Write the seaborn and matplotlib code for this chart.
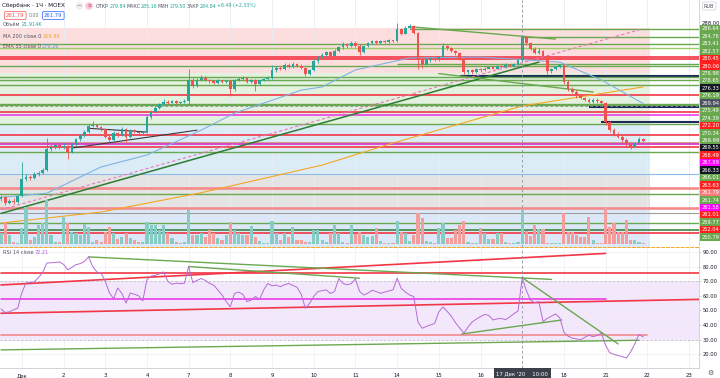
import matplotlib
matplotlib.use("Agg")
import matplotlib.pyplot as plt
from matplotlib.text import Annotation
import numpy as np
import pandas as pd
import seaborn as sns

# SBER 1h, 30 Nov - 21 Dec 2020, ten hourly bars per day
close = [
    250.0, 248.8, 249.3, 249.0, 250.2,
    254.0, 254.5, 254.3, 255.0, 255.2, 256.0, 260.5, 261.0, 261.3, 261.0,
    261.2, 259.8, 261.5, 262.6, 263.4, 264.2, 265.6, 265.8, 265.2, 264.8,
    263.2, 262.4, 264.0, 263.5, 264.8, 263.1, 264.6, 264.2, 263.9, 264.1,
    267.5, 268.6, 269.4, 270.3, 270.8, 270.6, 270.9, 270.5, 270.7, 271.0,
    275.5, 274.2, 275.6, 276.0, 275.5, 275.2, 274.9, 275.4, 275.0, 275.3,
    273.5, 275.4, 275.8, 276.0, 275.1, 275.5, 274.6, 275.4, 275.7, 276.0,
    277.6, 278.2, 277.9, 278.8, 278.4, 279.0, 278.6, 278.2, 276.8, 277.6,
    279.6, 280.5, 281.0, 281.6, 280.8, 281.8, 282.6, 283.3, 282.8, 283.6,
    283.0, 281.5, 282.8, 283.5, 283.9, 283.6, 284.0, 283.8, 284.1, 284.0,
    286.5, 285.6, 286.9, 287.2, 285.8, 280.0, 279.0, 279.8, 280.2, 280.0,
    280.4, 282.8, 282.4, 281.9, 281.3, 280.1, 277.3, 277.6, 277.2, 277.9,
    277.6, 278.0, 278.3, 278.0, 278.5, 278.4, 278.8, 278.6, 279.0, 279.84,
    284.84, 283.5, 282.3, 281.4, 281.9, 280.8, 277.4, 277.9, 278.4, 278.7,
    275.0, 273.6, 273.0, 272.0, 271.6, 271.2, 270.7, 271.2, 270.9, 270.5,
    266.3, 264.6, 263.8, 263.2, 262.4, 261.6, 261.0, 261.8, 262.6, 262.3,
]
high = [
    250.6, 250.3, 249.6, 249.8, 250.6,
    257.6, 255.0, 254.9, 255.4, 255.8, 256.4, 263.0, 261.6, 261.8, 261.6,
    261.8, 261.4, 261.8, 262.9, 263.8, 264.6, 266.0, 266.5, 266.0, 265.5,
    265.0, 263.5, 264.4, 264.3, 265.3, 265.0, 264.9, 264.8, 264.5, 264.4,
    267.9, 269.0, 269.8, 270.6, 271.3, 271.1, 271.2, 271.1, 271.0, 271.3,
    277.8, 275.9, 276.0, 276.5, 276.3, 275.8, 275.5, 275.8, 275.6, 275.6,
    275.6, 275.7, 276.2, 276.3, 276.2, 275.8, 275.7, 275.6, 275.9, 276.3,
    278.7, 278.6, 278.5, 279.2, 279.1, 279.5, 279.2, 278.9, 278.4, 277.9,
    280.0, 280.8, 281.4, 281.9, 281.8, 282.2, 283.0, 283.7, 283.6, 283.9,
    284.0, 283.3, 283.1, 283.8, 284.3, 284.1, 284.3, 284.2, 284.4, 284.3,
    288.0, 286.8, 287.3, 287.6, 287.4, 286.0, 280.4, 280.2, 280.5, 280.6,
    280.8, 283.5, 283.1, 282.6, 282.1, 281.5, 280.3, 277.9, 278.0, 278.2,
    278.2, 278.3, 278.6, 278.5, 278.8, 278.8, 279.1, 279.0, 279.3, 280.0,
    285.16, 285.0, 283.8, 282.6, 282.4, 282.1, 281.0, 278.2, 278.6, 278.9,
    279.0, 275.4, 274.0, 273.3, 272.3, 271.9, 271.5, 271.6, 271.5, 271.1,
    270.8, 266.7, 265.0, 264.2, 263.6, 262.8, 262.0, 262.1, 263.2, 262.8,
]
low = [
    249.2, 248.3, 248.5, 248.6, 248.8,
    250.0, 253.6, 253.8, 254.0, 254.6, 255.0, 255.8, 260.0, 260.6, 260.6,
    260.6, 258.4, 259.6, 261.2, 262.3, 263.1, 264.0, 265.2, 264.9, 264.5,
    262.9, 262.0, 262.2, 263.2, 263.3, 262.0, 262.9, 263.9, 263.6, 263.7,
    263.9, 267.0, 268.3, 269.1, 270.0, 270.3, 270.4, 270.2, 270.3, 270.5,
    270.0, 273.8, 274.0, 275.3, 275.2, 274.9, 274.6, 274.7, 274.8, 274.8,
    272.1, 273.2, 275.2, 275.6, 274.8, 274.9, 273.2, 274.4, 275.2, 275.5,
    275.8, 277.3, 277.6, 277.7, 278.1, 278.2, 278.3, 277.9, 276.3, 276.6,
    277.4, 279.3, 280.2, 280.7, 280.5, 280.6, 281.5, 282.3, 282.5, 282.6,
    282.7, 281.0, 281.3, 282.6, 283.3, 283.3, 283.4, 283.6, 283.6, 283.8,
    283.8, 285.2, 285.4, 286.6, 285.5, 278.0, 278.2, 278.8, 279.5, 279.6,
    279.7, 280.2, 282.0, 281.6, 281.0, 279.8, 276.9, 276.9, 276.9, 277.0,
    277.2, 277.4, 277.8, 277.8, 277.8, 278.2, 278.2, 278.4, 278.4, 278.8,
    279.50, 283.2, 282.0, 281.1, 281.2, 280.5, 276.8, 277.1, 277.7, 278.2,
    274.7, 273.1, 272.6, 271.7, 271.3, 270.9, 270.4, 270.5, 270.6, 270.2,
    265.8, 264.1, 263.4, 262.8, 262.0, 261.2, 260.6, 260.9, 261.6, 262.0,
]
first_open = 249.6
volume = [
    11, 21, 9.3, 2.7, 1.7,
    16, 37.7, 4.3, 7.7, 19.3, 21, 44, 9.3, 2.7, 2.7,
    27.7, 21, 12.7, 11, 9.3, 20.3, 17.7, 2.7, 4.3, 2.7,
    12.7, 17.7, 11, 5, 7.7, 11, 6, 4.3, 2.7, 2.7,
    22.7, 19.3, 19.3, 14.3, 19.3, 11, 6, 2.7, 1.7, 2.7,
    34.3, 9.3, 9.3, 11, 7.7, 14.3, 11, 6, 4.3, 9.3,
    22.7, 14.3, 11, 9.3, 9.3, 18.3, 7.7, 3.7, 1.7, 1.7,
    23.7, 11, 4.3, 11, 7.7, 17, 4.3, 4.3, 2.7, 2.7,
    14.3, 14.3, 4.3, 2.7, 11, 19.3, 11, 2.7, 1.7, 19.3,
    10, 12.7, 9.3, 7.7, 8.3, 16, 3.3, 1.7, 1.7, 1.7,
    23.7, 12, 11, 3.7, 9.3, 31.7, 26, 3.7, 2.7, 1.7,
    16, 21, 6, 6, 14.3, 19.3, 23.7, 2, 1.7, 1.7,
    16, 11, 5.3, 5, 11, 11, 2.3, 1.7, 1.7, 2.7,
    34.3, 13.7, 8.3, 19.3, 15, 15, 1.7, 1.7, 1.7, 1.7,
    31.7, 12.7, 12.7, 9.3, 7.7, 7.7, 27, 4.3, 1.7, 1.7,
    36, 17, 21.7, 12.7, 12.7, 24.3, 4.3, 4.3, 2.7, 1.7,
]
rsi = [
    51, 48.5, 49, 50.3, 51.5,
    62, 68.8, 69, 69.5, 72.5, 76, 82.4, 82.6, 82.8, 83.2,
    81.5, 77.7, 79.5, 81.3, 82, 83.5, 86.6, 80, 76.2, 75.5,
    70, 62, 58, 65.3, 61.5, 55, 61.9, 61, 60, 56.5,
    71, 73.5, 74, 75, 76.3, 70, 67.8, 68.6, 68.3, 68.6,
    80, 69, 70.5, 71.8, 70.5, 68.5, 67.2, 64, 60.5, 56,
    52.5, 61.5, 62.5, 61, 56, 57, 59.5, 57.5, 64, 68.4,
    66.8, 67.3, 66.2, 67.5, 68.4, 67, 65.8, 61, 51.4, 54.8,
    59.5, 62.9, 63.5, 64, 61.5, 63, 71.8, 68.5, 67.5, 68.3,
    71.5, 63, 60.5, 61.8, 63.8, 62.8, 61.7, 62.5, 63.3, 64,
    72, 65, 62.5, 60.5, 59.4, 42, 37.7, 39, 40, 41,
    49, 52.3, 49.3, 46, 41.5, 38, 34.5, 38.5, 42, 44,
    45.7, 47.2, 46.5, 43.4, 44.2, 44.4, 43.6, 45.5, 47.7, 49.5,
    72.2, 63.5, 57, 55.2, 56, 42.3, 44.5, 46, 47.5, 45,
    35, 32.3, 31, 30.4, 29.8, 31.5, 33, 32, 32.8, 34.5,
    26, 21, 19.8, 19, 18.3, 17.4, 21.5, 27, 33.5, 31.8,
]

day_names = ["Дек", "2", "3", "4", "7", "8", "9", "10", "11", "14", "15", "16",
             "17", "18", "21", "22", "23"]
first_day_bar = 5
bars_per_day = 10

ema55_bar = [0, 11, 24, 35, 48, 56, 65, 72, 77, 85, 98, 115, 134, 144, 154]
ema55 = [250.0, 250.9, 256.6, 259.2, 264.6, 268.3, 271.1, 273.3, 274.0, 277.7,
         280.3, 280.5, 279.4, 275.5, 270.4]
ma200_bar = [0, 24, 48, 77, 94, 125, 154]
ma200 = [244.4, 246.8, 251.0, 257.0, 261.8, 269.86, 274.0]

# coloured zones of the price pane
zone_lo = [277.0, 265.7, 254.8, 247.9, 238.0]
zone_hi = [286.8, 277.0, 265.7, 254.8, 247.9]
zone_end = 155.6

# horizontal levels (ray start bar, -1 = from the left edge)
level_price = [286.64, 284.78, 283.41, 282.57, 280.45, 280.06, 278.98, 278.65,
               276.33, 276.19, 275.49, 274.39, 272.20, 270.34, 269.99, 269.55,
               268.49, 267.89, 266.33, 266.01, 263.63, 261.79, 261.74, 261.58,
               261.01, 259.77, 255.10, 252.04, 250.79, 247.70, 246.60, 244.40,
               242.90, 242.20]
level_from = [98, 125, -1, -1, -1, -1, 95, -1,
              110, -1, -1, -1, -1, -1, -1, 141,
              -1, -1, 144, -1, -1, -1, -1, -1,
              -1, -1, -1, -1, -1, -1, -1, -1,
              -1, -1]
level_kind = ["g", "g", "g", "lg", "r", "r", "g", "g",
              "n", "g", "g", "g", "r", "g", "g", "n",
              "r", "m", "n", "g", "r", "lr", "g", "m",
              "r", "g", "lb", "lr", "g", "lr", "gr", "g",
              "dg", "r"]

# stacked labels on the price scale
scale_text = ["286.64", "284.78", "283.41", "282.57", "280.45", "280.06", "278.98",
              "278.65", "276.33", "276.19", "269.94", "275.49", "274.39", "272.20",
              "270.34", "269.99", "269.55", "268.49", "267.89", "266.33", "266.01",
              "263.63", "261.79", "261.74", "261.58", "261.01", "259.77", "252.04",
              "250.79"]
scale_kind = ["g", "g", "g", "g", "r", "r", "g", "g", "n", "g", "x", "g", "g", "r",
              "g", "g", "n", "r", "m", "n", "g", "r", "lr", "g", "m", "r", "g", "r", "g"]

# drawn trend lines, price pane
trend_bars = [(0, 129), (0, 153), (21, 35), (17, 47), (98, 133), (105, 142)]
trend_prices = [(246.5, 279.4), (247.3, 286.4), (265.0, 264.2), (260.7, 264.6),
                (287.1, 284.4), (276.9, 272.9)]
trend_kind = ["dg", "pd", "k", "k", "g", "g"]

# drawn lines, RSI pane
rsi_line_bars = [(0, 167.4), (0, 145), (0, 145), (0, 167.4), (0, 155), (0, 153),
                 (21, 132), (45, 86), (125, 148), (110.5, 134.5)]
rsi_line_vals = [(75.5, 75.5), (67.4, 89.0), (57.8, 57.8), (48.0, 57.5), (33.0, 33.0),
                 (22.9, 29.5), (86.6, 71.2), (80.0, 72.0), (72.4, 27.0), (33.8, 43.4)]
rsi_line_kind = ["r", "r", "m", "r", "lr", "g", "g", "g", "g", "g"]

cross_bar = 125
cross_price = 269.94

# ---------------------------------------------------------------
UP, DN = "#26a69a", "#ef5350"
line_style = {
    "g": ("#6aa84f", 1.0), "lg": ("#9ccc65", 1.0), "r": ("#f23645", 1.2),
    "lr": ("#f48a8a", 1.9), "n": ("#1c2a5a", 1.5), "m": ("#ea2ee6", 1.1),
    "lb": ("#8bbbe8", 0.8), "gr": ("#9e9e9e", 0.8), "dg": ("#2e7d32", 1.1),
    "k": ("#3a3a3a", 0.8), "pd": ("#e57ab5", 0.8),
}
label_bg = {"g": "#6aa84f", "r": "#ff1f1f", "lr": "#f77b7b", "n": "#131722",
            "m": "#ff00ff", "x": "#4c525e"}

df = pd.DataFrame({"close": close, "high": high, "low": low,
                   "volume": volume, "rsi": rsi})
df["open"] = [first_open] + close[:-1]
df["bar"] = np.arange(len(df))
df["up"] = df["close"] >= df["open"]

sns.set_style("white")
plt.rcParams["font.family"] = ["DejaVu Sans"]

W, H = 720, 378
fig = plt.figure(figsize=(7.2, 3.78), dpi=100)


def rect(x0, y0, x1, y1):
    return [x0 / W, 1 - y1 / H, (x1 - x0) / W, (y1 - y0) / H]


ax = fig.add_axes(rect(0, 0, 699, 247))
ax_rsi = fig.add_axes(rect(0, 248, 699, 368), sharex=ax)
x_left, x_right = -0.24, 167.4
day_bars = [first_day_bar + bars_per_day * k for k in range(len(day_names))]

# --- price pane ---
zone_colors = ["#fcdede", "#e3f1df", "#dcecf6", "#e4e4e4", "#dce8f7"]
for lo_, hi_, col in zip(zone_lo, zone_hi, zone_colors):
    ax.fill_between([x_left - 1, zone_end], lo_, hi_, color=col, lw=0, zorder=0)

for p, start, kind in zip(level_price, level_from, level_kind):
    col, lw = line_style[kind]
    ax.hlines(p, x_left - 1 if start < 0 else start, x_right + 1, color=col, lw=lw, zorder=1)

for (b0, b1), (p0, p1), kind in zip(trend_bars, trend_prices, trend_kind):
    col, lw = line_style[kind]
    ls = (0, (3, 2)) if kind == "pd" else "-"
    ax.plot([b0, b1], [p0, p1], color=col, lw=lw, ls=ls, zorder=1.5)

sns.lineplot(x=ma200_bar, y=ma200, ax=ax, color="#f6a623", lw=0.8, zorder=2)
sns.lineplot(x=ema55_bar, y=ema55, ax=ax, color="#7fb3e3", lw=0.8, zorder=2)

colors = np.where(df["up"], UP, DN)
body = (df["close"] - df["open"]).where((df["close"] - df["open"]).abs() > 0.08, 0.08)
ax.vlines(df["bar"], df["low"], df["high"], color=colors, lw=0.6, zorder=3)
ax.bar(df["bar"], body, bottom=df["open"], width=0.66, color=colors, lw=0, zorder=3)

ax.axvline(cross_bar, color="#8a8f9c", lw=0.6, ls=(0, (3, 3)), zorder=4)
ax.axhline(cross_price, color="#8a8f9c", lw=0.6, ls=(0, (3, 3)), zorder=4)

# volume overlay
axv = ax.twinx()
vcol = np.where(df["up"], "#86cbc4", "#f39d9c")
axv.bar(df["bar"], df["volume"], width=0.75, color=vcol, lw=0)
axv.set_ylim(-2.7, 244.3)
axv.set_axis_off()

ax.set_ylim(239.2, 292.9)
ax.set_xlim(x_left, x_right)
ax.set_xticks(day_bars)
ax.tick_params(axis="x", length=0, labelbottom=False)
ax.grid(axis="x", color="#e9ecf2", lw=0.6)
ax.yaxis.tick_right()
ax.set_yticks([288])
ax.set_yticklabels(["288.00"])
ax.tick_params(axis="y", length=0, labelsize=3.8, labelcolor="#131722", pad=2,
               left=False, labelleft=False, right=False, labelright=True)
for s in ["top", "left"]:
    ax.spines[s].set_visible(False)
ax.spines["right"].set(color="#c9ccd4", lw=0.6)
ax.spines["bottom"].set(color="#f5a623", lw=0.7, ls=(0, (3, 2)))

for k, (txt, kind) in enumerate(zip(scale_text, scale_kind)):
    ax.annotate(txt, xy=(1, level_price[0]), xycoords=ax.get_yaxis_transform(),
                xytext=(1.6, -k * 5.36), textcoords="offset points", fontsize=3.7,
                color="white", va="center", ha="left", annotation_clip=False,
                bbox=dict(boxstyle="square,pad=0.28", fc=label_bg[kind], ec="none"))

# --- RSI pane ---
ax_rsi.axhspan(30, 70, color="#f3e7fb", lw=0, zorder=0)
for lvl in (30, 70):
    ax_rsi.axhline(lvl, color="#b5aebf", lw=0.5, ls=(0, (3, 3)), zorder=0.6)
for (b0, b1), (v0, v1), kind in zip(rsi_line_bars, rsi_line_vals, rsi_line_kind):
    col, lw = line_style[kind]
    ax_rsi.plot([b0, b1], [v0, v1], color=col, lw=min(lw, 1.2), zorder=1)
sns.lineplot(data=df, x="bar", y="rsi", ax=ax_rsi, color="#b56bd6", lw=0.7, zorder=2)
ax_rsi.axvline(cross_bar, color="#8a8f9c", lw=0.6, ls=(0, (3, 3)), zorder=3)

ax_rsi.set_ylim(10.5, 92.7)
ax_rsi.set_xlim(x_left, x_right)
ax_rsi.set_xlabel("")
ax_rsi.set_ylabel("")
ax_rsi.set_xticks(day_bars)
ax_rsi.set_xticklabels(["" if d == "17" else d for d in day_names])
ax_rsi.tick_params(axis="x", length=0, labelsize=3.9, labelcolor="#131722", pad=3.5)
ax_rsi.yaxis.tick_right()
ax_rsi.set_yticks(range(20, 100, 10))
ax_rsi.set_yticklabels([f"{v:.2f}" for v in range(20, 100, 10)])
ax_rsi.tick_params(axis="y", length=1.5, width=0.4, color="#b2b5be", labelsize=3.7,
                   labelcolor="#131722", pad=1.2)
ax_rsi.grid(axis="both", color="#eceef3", lw=0.5)
ax_rsi.set_axisbelow(True)
for s in ["top", "left"]:
    ax_rsi.spines[s].set_visible(False)
for s in ["right", "bottom"]:
    ax_rsi.spines[s].set(color="#c9ccd4", lw=0.6)

ax_rsi.text(cross_bar, -0.045, "17 Дек '20    10:00", transform=ax_rsi.get_xaxis_transform(),
            ha="center", va="center", fontsize=3.9, color="white",
            bbox=dict(boxstyle="square,pad=0.45", fc="#3b3f4a", ec="none"))


# --- header / legend texts (figure-level so no pane covers them) ---
def chain(x, y, parts, size, gap=0.6):
    t = fig.text(x / W, 1 - y / H, parts[0][0], color=parts[0][1], fontsize=size,
                 va="center", zorder=10)
    for s, c in parts[1:]:
        t = fig.add_artist(Annotation(s, xy=(1, 0.5), xycoords=t, xytext=(gap, 0),
                                      textcoords="offset points", color=c, fontsize=size,
                                      va="center", ha="left", zorder=10))
    return t


DARK, GREY = "#131722", "#50535e"
fig.text(2 / W, 1 - 6 / H, "Сбербанк · 1Ч · MOEX", fontsize=4.1, color=DARK, va="center")
fig.text(77 / W, 1 - 6 / H, "—", fontsize=3.5, color=GREY, va="center",
         bbox=dict(boxstyle="circle,pad=0.25", fc="#eeeeee", ec="none"))
fig.text(87 / W, 1 - 6 / H, "≡", fontsize=3.5, color="#e0457b", va="center",
         bbox=dict(boxstyle="circle,pad=0.25", fc="#f8c8d8", ec="none"))
chain(96, 6, [("ОТКР", GREY), ("279.84", UP), ("МАКС", GREY), ("285.16", UP),
              ("МИН", GREY), ("279.50", UP), ("ЗАКР", GREY), ("284.84", UP),
              ("+6.49 (+2.33%)", UP)], 3.45, gap=0.3)
fig.text(6 / W, 1 - 15.5 / H, "261.79", fontsize=3.8, color="#ef5350", va="center",
         bbox=dict(boxstyle="round,pad=0.3", fc="white", ec="#ef5350", lw=0.5))
fig.text(29 / W, 1 - 15.5 / H, "0.00", fontsize=3.4, color="#787b86", va="center")
fig.text(44 / W, 1 - 15.5 / H, "261.79", fontsize=3.8, color="#2962ff", va="center",
         bbox=dict(boxstyle="round,pad=0.3", fc="white", ec="#2962ff", lw=0.5))
chain(3, 25, [("Объём", GREY), ("21.914K", UP)], 3.6)
chain(3, 37, [("MA 200 close 0", GREY), ("269.86", "#f5a623")], 3.6)
chain(3, 47, [("EMA 55 close 0", GREY), ("279.26", "#4a9be0")], 3.6)
chain(3, 252, [("RSI 14 close", GREY), ("72.21", "#a855c9")], 3.6)
fig.text(704 / W, 1 - 6 / H, "RUB", fontsize=3.6, color=GREY, va="center",
         bbox=dict(boxstyle="round,pad=0.3", fc="white", ec="#c9ccd4", lw=0.5))
fig.text(707 / W, 1 - 373 / H, "⚙", fontsize=5, color=GREY, va="center")

fig.savefig("out.png", dpi=100)
